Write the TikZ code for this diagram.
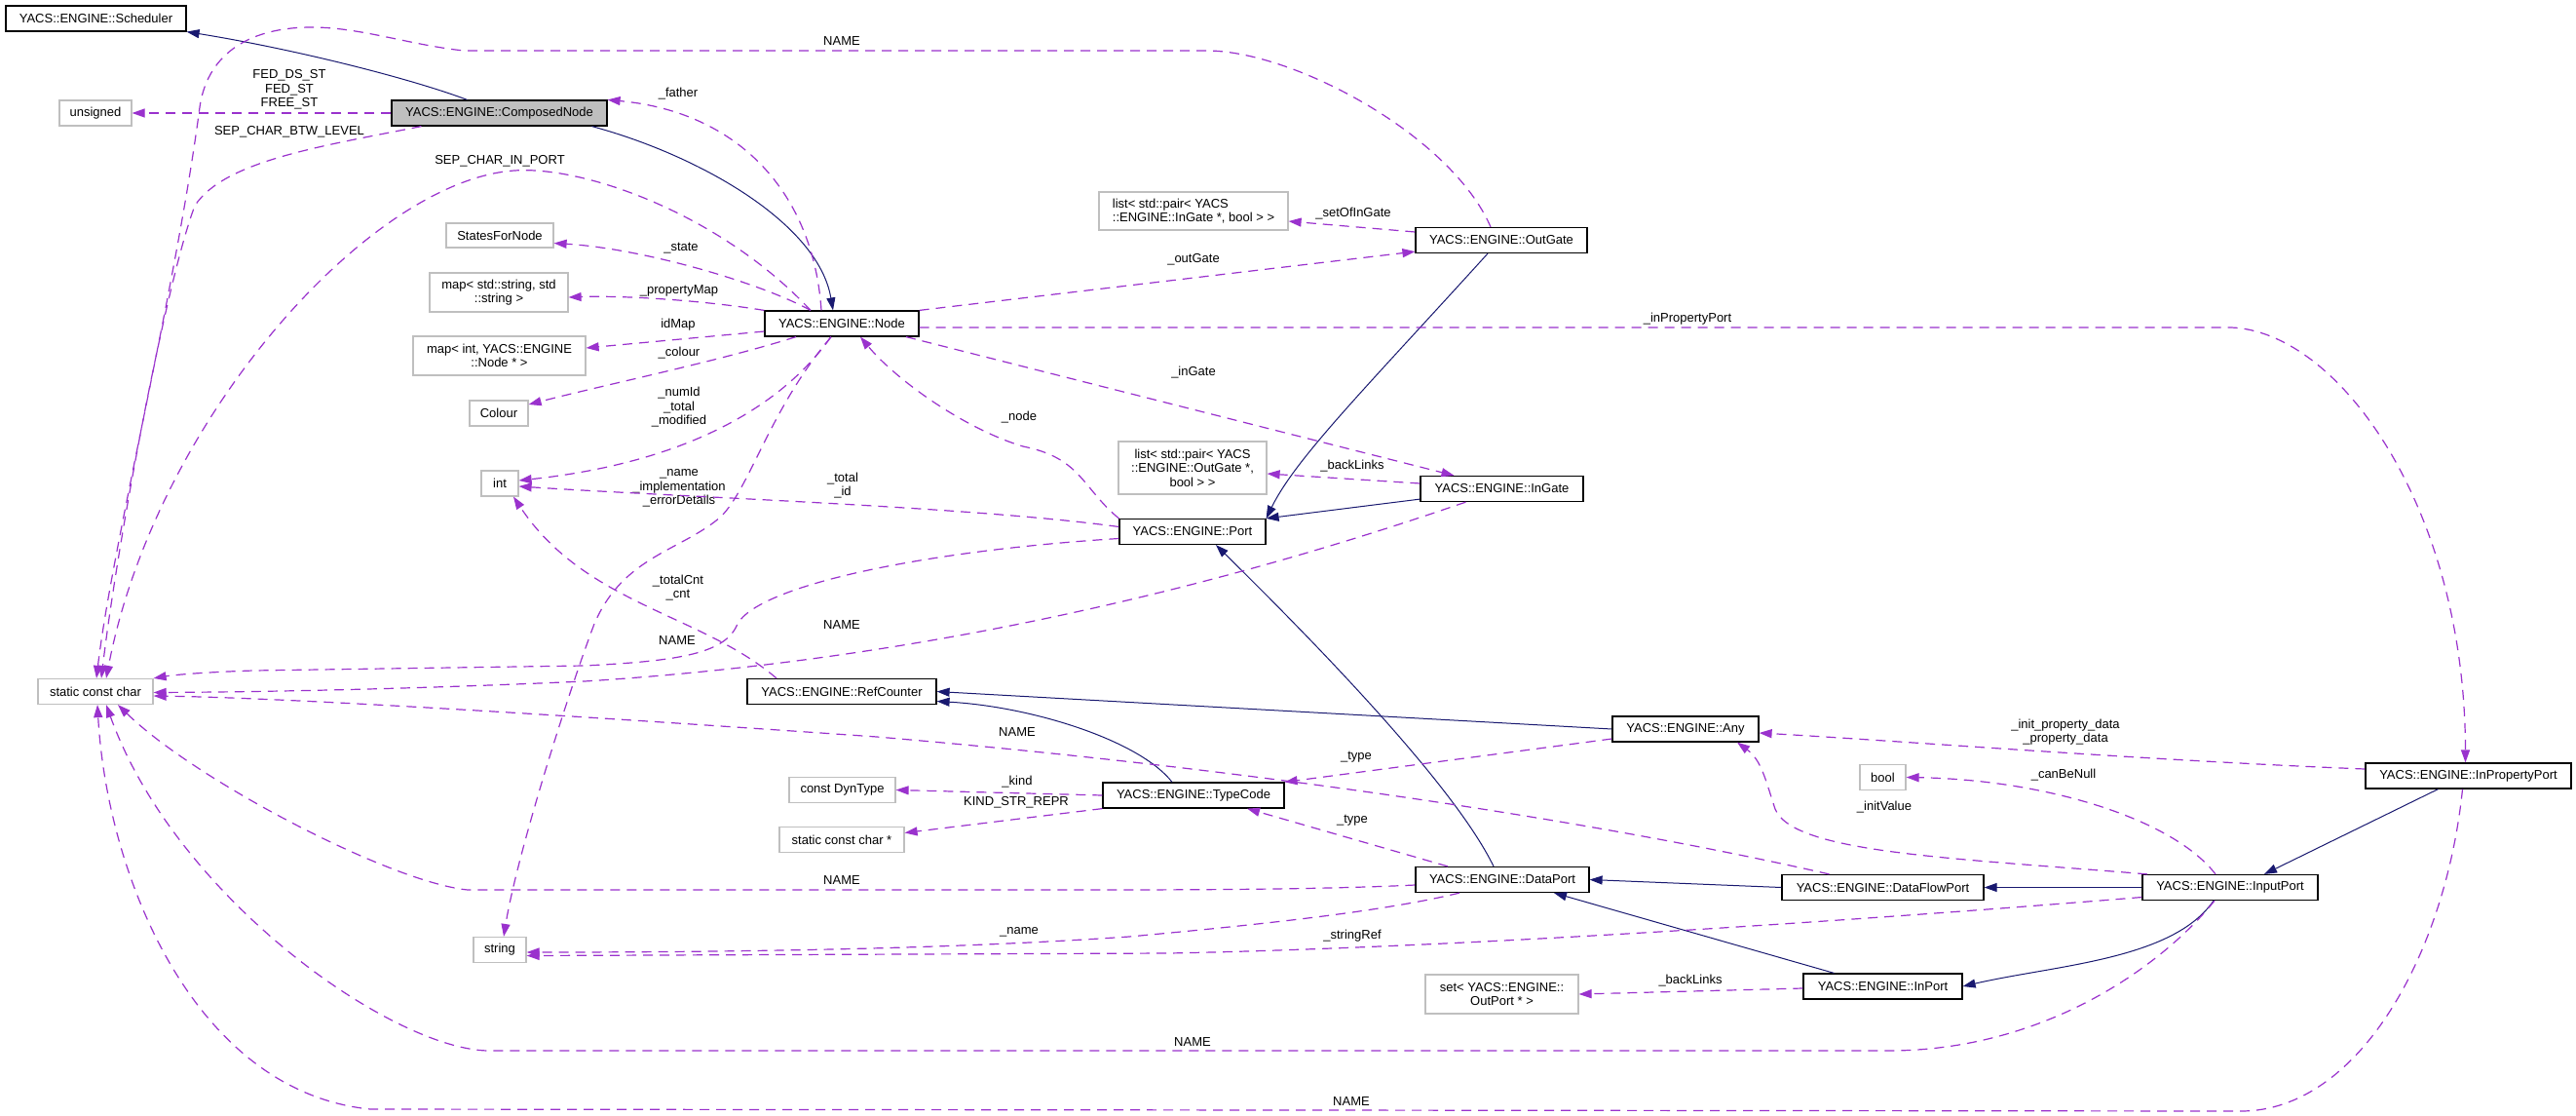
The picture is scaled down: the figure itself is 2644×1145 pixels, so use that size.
\documentclass[tikz,border=0pt]{standalone}
\usepackage{fontspec}
\setmainfont{Liberation Sans}
\usetikzlibrary{arrows.meta}

\definecolor{edgeblue}{HTML}{191970}
\definecolor{edgepurple}{HTML}{9A32CD}
\definecolor{boxgrey}{HTML}{BFBFBF}

\begin{document}
\begin{tikzpicture}[x=1pt, y=-1pt,
    font=\fontsize{13}{14.5}\selectfont,
    cls/.style={draw=black, line width=1.2pt, minimum height=26pt, inner xsep=6pt, inner ysep=2pt, align=center},
    ext/.style={cls, draw=boxgrey},
    cur/.style={cls, fill=boxgrey},
    inh/.style={draw=edgeblue, line width=1pt, -{Triangle[length=13pt,width=9pt]}},
    usg/.style={draw=edgepurple, line width=1.2pt, dash pattern=on 10pt off 7pt, -{Triangle[length=13pt,width=9pt]}},
    lbl/.style={inner sep=0pt, align=center}
]
\fill[white] (0,0) rectangle (2644,1145);

% classes and types
\node[cls, minimum width=185] (sched) at (98.5,19) {YACS::ENGINE::Scheduler};
\node[ext, minimum width=74] (tunsig) at (98,116) {unsigned};
\node[cur, minimum width=221] (comp) at (512.5,116) {YACS::ENGINE::ComposedNode};
\node[ext, minimum width=110, minimum height=25] (tstates) at (513,241.5) {StatesForNode};
\node[ext, minimum width=142, minimum height=40] (tmapstr) at (512,300) {map< std::string, std\\::string >};
\node[ext, minimum width=177, minimum height=40] (tmapint) at (512.5,365) {map< int, YACS::ENGINE\\::Node * >};
\node[ext, minimum width=60] (tcolour) at (512,424) {Colour};
\node[ext, minimum width=38] (tint) at (513,496) {int};
\node[ext, minimum width=54] (tstring) at (513,974.5) {string};
\node[ext, minimum width=118] (tscc) at (98,709.5) {static const char};
\node[cls, minimum width=158] (node) at (864,332) {YACS::ENGINE::Node};
\node[cls, minimum width=194] (refc) at (864,709.5) {YACS::ENGINE::RefCounter};
\node[ext, minimum width=109] (tdyn) at (864.5,810.5) {const DynType};
\node[ext, minimum width=128] (tsccp) at (864,861.5) {static const char *};
\node[ext, minimum width=194, minimum height=39, align=left] (tlistin) at (1225,216.5) {list< std::pair< YACS\\::ENGINE::InGate *, bool > >};
\node[ext, minimum width=152, minimum height=54] (tlistout) at (1224,480) {list< std::pair< YACS\\::ENGINE::OutGate *,\\bool > >};
\node[cls, minimum width=150] (port) at (1224,545.5) {YACS::ENGINE::Port};
\node[cls, minimum width=186] (tcode) at (1225,816) {YACS::ENGINE::TypeCode};
\node[cls, minimum width=176] (outgate) at (1541,246.5) {YACS::ENGINE::OutGate};
\node[cls, minimum width=167] (ingate) at (1541.5,501.5) {YACS::ENGINE::InGate};
\node[cls, minimum width=178] (dport) at (1542,902.5) {YACS::ENGINE::DataPort};
\node[ext, minimum width=157, minimum height=40] (tsetout) at (1541.5,1020) {set< YACS::ENGINE::\\OutPort * >};
\node[cls, minimum width=150] (any) at (1730,748) {YACS::ENGINE::Any};
\node[ext, minimum width=47] (tbool) at (1932.5,797.5) {bool};
\node[cls, minimum width=207] (dfport) at (1932.5,910.5) {YACS::ENGINE::DataFlowPort};
\node[cls, minimum width=163] (inport) at (1932.5,1012) {YACS::ENGINE::InPort};
\node[cls, minimum width=180] (inputp) at (2289,910.5) {YACS::ENGINE::InputPort};
\node[cls, minimum width=211] (inprop) at (2533.5,796) {YACS::ENGINE::InPropertyPort};

% inheritance
\draw[inh] ([xshift=-33]comp.north) .. controls (420,80) and (300,50) .. (sched.south east);
\draw[inh] ([xshift=95]comp.south) .. controls (720,160) and (840,230) .. ([xshift=-9]node.north);
\draw[inh] ([xshift=-14]outgate.south) .. controls (1400,400) and (1330,470) .. (port.north east);
\draw[inh] ([yshift=3]ingate.south west) -- (port.north east);
\draw[inh] ([xshift=-9]dport.north) .. controls (1490,800) and (1330,640) .. ([xshift=24]port.south);
\draw[inh] (any.west) -- (refc.east);
\draw[inh] ([xshift=-22]tcode.north) .. controls (1170,760) and (1060,725) .. ([yshift=-10]refc.east);
\draw[inh] (dfport.west) -- (dport.east);
\draw[inh] ([xshift=-50]inport.north) -- ([xshift=53]dport.south);
\draw[inh] (inputp.west) -- (dfport.east);
\draw[inh] ([xshift=-17]inputp.south) .. controls (2230,985) and (2110,990) .. (inport.east);
\draw[inh] ([xshift=-31]inprop.south) -- ([xshift=35]inputp.north);

% members of ComposedNode
\draw[usg] (comp.west) -- (tunsig.east);
\node[lbl] (lfed) at (297,92) {FED\_DS\_ST\\FED\_ST\\FREE\_ST};
\draw[usg] ([xshift=-80]comp.south) .. controls (330,150) and (230,165) .. (200,211) .. controls (170,290) and (120,560) .. ([xshift=6]tscc.north);
\node[lbl] (lsepbtw) at (297,135) {SEP\_CHAR\_BTW\_LEVEL};

% members of Node
\draw[usg] ([xshift=-21]node.north) .. controls (835,200) and (760,115) .. (comp.north east);
\node[lbl] (lfather) at (696,96) {\_father};
\draw[usg] ([xshift=-32]node.north) .. controls (740,220) and (600,170) .. (528,175) .. controls (380,185) and (160,430) .. ([xshift=11]tscc.north);
\node[lbl] (lsepin) at (513,165) {SEP\_CHAR\_IN\_PORT};
\draw[usg] ([xshift=-32]node.north) .. controls (780,290) and (660,255) .. ([yshift=-8]tstates.east);
\node[lbl] (lstate) at (699,255) {\_state};
\draw[usg] (node.north west) .. controls (720,308) and (640,303) .. ([yshift=-5]tmapstr.east);
\node[lbl] (lpropmap) at (697,298) {\_propertyMap};
\draw[usg] ([yshift=-8]node.west) -- ([yshift=8]tmapint.east);
\node[lbl] (lidmap) at (696,333) {idMap};
\draw[usg] ([xshift=-47]node.south) .. controls (740,370) and (620,395) .. ([yshift=9]tcolour.east);
\node[lbl] (lcolour) at (697,362) {\_colour};
\draw[usg] ([xshift=-11]node.south) .. controls (800,420) and (700,475) .. ([yshift=3]tint.east);
\node[lbl] (lnumid) at (697,418) {\_numId\\\_total\\\_modified};
\draw[usg] ([xshift=-11]node.south) .. controls (790,420) and (770,500) .. (740,530) .. controls (700,565) and (640,570) .. (610,640) .. controls (580,720) and (530,880) .. ([xshift=4]tstring.north);
\node[lbl] (lnameimpl) at (697,501) {\_name\\\_implementation\\\_errorDetails};
\draw[usg] (node.north east) -- ([yshift=2]outgate.south west);
\node[lbl] (loutgate) at (1225,266) {\_outGate};
\draw[usg] ([xshift=66]node.south) -- ([xshift=-49]ingate.north);
\node[lbl] (lingate) at (1225,382) {\_inGate};
\draw[usg] ([yshift=-4]node.east) -- (2290,336) .. controls (2400,340) and (2530,520) .. ([xshift=-3]inprop.north);
\node[lbl] (linprop) at (1732,327) {\_inPropertyPort};

% members of OutGate and InGate
\draw[usg] ([xshift=-11]outgate.north) .. controls (1490,140) and (1330,53) .. (1240,52) -- (476,52) .. controls (420,46) and (370,28) .. (320,28) .. controls (250,28) and (212,60) .. (205,110) .. controls (180,300) and (115,560) .. ([xshift=1]tscc.north);
\node[lbl] (lname1) at (864,42) {NAME};
\draw[usg] ([yshift=8.5]outgate.west) -- ([yshift=-10.5]tlistin.east);
\node[lbl] (lsetof) at (1389,219) {\_setOfInGate};
\draw[usg] ([yshift=5.5]ingate.west) -- ([yshift=-6]tlistout.east);
\node[lbl] (lback1) at (1388,478) {\_backLinks};
\draw[usg] ([xshift=-37]ingate.south) .. controls (1200,620) and (900,680) .. (600,699) .. controls (400,708) and (250,710) .. ([yshift=-1]tscc.east);
\node[lbl] (lname3) at (864,641) {NAME};

% members of Port and RefCounter
\draw[usg] (port.north west) .. controls (1110,500) and (1110,470) .. (1050,458) .. controls (990,440) and (920,390) .. ([xshift=19]node.south);
\node[lbl] (lnode) at (1046,428) {\_node};
\draw[usg] ([yshift=5]port.west) .. controls (1000,520) and (700,510) .. ([yshift=-3]tint.east);
\node[lbl] (ltotal) at (865,498) {\_total\\\_id};
\draw[usg] ([yshift=-7]port.west) .. controls (950,565) and (780,600) .. (757,640) .. controls (745,670) and (700,678) .. (600,683) -- (260,688) .. controls (200,690) and (175,693) .. (tscc.north east);
\node[lbl] (lname2) at (695,657) {NAME};
\draw[usg] ([xshift=-67]refc.north) .. controls (720,630) and (600,620) .. ([xshift=14]tint.south);
\node[lbl] (ltotcnt) at (696,603) {\_totalCnt\\\_cnt};

% members of TypeCode, Any, DataPort
\draw[usg] (tcode.west) -- (tdyn.east);
\node[lbl] (lkind) at (1044,802) {\_kind};
\draw[usg] (tcode.south west) -- ([yshift=7]tsccp.east);
\node[lbl] (lkindstr) at (1043,823) {KIND\_STR\_REPR};
\draw[usg] ([yshift=-10]any.west) -- (tcode.north east);
\node[lbl] (ltype1) at (1392,777) {\_type};
\draw[usg] ([xshift=-56]dport.north) -- ([xshift=55]tcode.south);
\node[lbl] (ltype2) at (1388,842) {\_type};
\draw[usg] ([yshift=-5.5]dport.west) .. controls (1350,913) and (1200,913) .. (1100,913) -- (480,913) .. controls (400,905) and (200,800) .. ([xshift=23]tscc.south);
\node[lbl] (lname4) at (864,903) {NAME};
\draw[usg] ([xshift=-44]dport.south) .. controls (1420,935) and (1300,948) .. (1159,961) .. controls (1000,972) and (800,977) .. ([yshift=-2.5]tstring.east);
\node[lbl] (lname5) at (1046,956) {\_name};

% members of DataFlowPort, InputPort, InPropertyPort, InPort
\draw[usg] ([xshift=-55]dfport.north) .. controls (1650,845) and (1300,790) .. (900,756) .. controls (600,735) and (300,716) .. ([yshift=-4.5]tscc.east);
\node[lbl] (lname6) at (1044,751) {NAME};
\draw[usg] ([xshift=-85]inputp.north) .. controls (2000,880) and (1840,875) .. (1822,830) .. controls (1812,800) and (1808,780) .. ([xshift=53]any.south);
\node[lbl] (linit) at (1934,828) {\_initValue};
\draw[usg] ([xshift=-15]inputp.north) .. controls (2230,840) and (2100,800) .. (tbool.east);
\node[lbl] (lcanbe) at (2118,795) {\_canBeNull};
\draw[usg] ([yshift=-10]inputp.west) .. controls (1900,945) and (1500,972) .. (1200,978) -- ([yshift=-6]tstring.east);
\node[lbl] (lstrref) at (1388,960) {\_stringRef};
\draw[usg] ([xshift=-16]inputp.south) .. controls (2220,990) and (2100,1078) .. (1938,1078) -- (500,1078) .. controls (400,1075) and (180,920) .. ([xshift=11]tscc.south);
\node[lbl] (lname7) at (1224,1069) {NAME};
\draw[usg] ([yshift=7]inprop.west) .. controls (2200,780) and (1950,760) .. ([yshift=-4]any.east);
\node[lbl] (linitprop) at (2120,751) {\_init\_property\_data\\\_property\_data};
\draw[usg] ([xshift=-6]inprop.south) .. controls (2510,980) and (2420,1140) .. (2300,1140) -- (380,1138) .. controls (200,1120) and (110,900) .. ([xshift=2]tscc.south);
\node[lbl] (lname8) at (1387,1130) {NAME};
\draw[usg] ([yshift=-2]inport.west) -- (tsetout.east);
\node[lbl] (lback2) at (1735,1006) {\_backLinks};
\end{tikzpicture}
\end{document}
